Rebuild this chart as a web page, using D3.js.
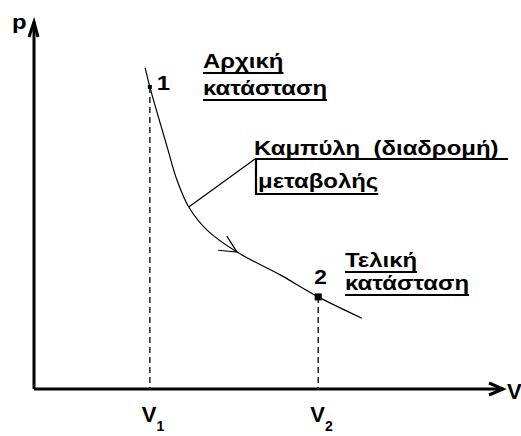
<!DOCTYPE html>
<html>
<head>
<meta charset="utf-8">
<script src="https://cdn.jsdelivr.net/npm/d3@7"></script>
<style>
  html, body { margin: 0; padding: 0; background: #ffffff; }
  svg { display: block; }
  text { font-family: "Liberation Sans", Arial, sans-serif; font-weight: bold; fill: #000; }
</style>
</head>
<body>
<script>
// p–V diagram of a change of state from state 1 to state 2

// path of the change (volume, pressure)
const curveV = [2.37, 2.47, 2.84, 3.05, 3.30, 3.69, 4.33, 5.25, 6.06, 6.99];
const curveP = [8.75, 8.23, 6.59, 5.69, 4.96, 4.33, 3.73, 3.11, 2.51, 1.93];

// initial and final states
const stateNames = ["1", "2"];
const stateV = [2.47, 6.06];
const stateP = [8.23, 2.51];

// position of the direction arrow on the curve (volume)
const arrowV = 4.33;
// point of the curve the caption leader starts from (volume)
const leaderV = 3.30;

// captions
const initialLabel = ["Αρχική", "κατάσταση"];
const finalLabel = ["Τελική", "κατάσταση"];
const pathLabel = ["Καμπύλη  (διαδρομή)", "μεταβολής"];
const axisLabelX = "V";
const axisLabelY = "p";

const W = 521, H = 436;
const SX = 1.14; // horizontal stretch of the bold lettering
const svg = d3.select("body").append("svg").attr("width", W).attr("height", H);

const x = d3.scaleLinear().domain([0, 10]).range([34, 503]);
const y = d3.scaleLinear().domain([0, 10]).range([389, 22]);

// bold, slightly widened text; returns its drawn width
function label(px, py, str, size) {
  const t = svg.append("text")
    .attr("transform", `translate(${px},${py}) scale(${SX},1)`)
    .attr("font-size", size).style("white-space", "pre").text(str);
  return t.node().getComputedTextLength() * SX;
}
function underline(x1, x2, py) {
  svg.append("line").attr("x1", x1).attr("x2", x2).attr("y1", py).attr("y2", py)
    .attr("stroke", "#000").attr("stroke-width", 2.2);
}

// axes
const axisG = svg.append("g").attr("stroke", "#000").attr("stroke-width", 3).attr("fill", "none");
axisG.append("line").attr("x1", x(0)).attr("y1", y(0)).attr("x2", x(10)).attr("y2", y(0));
axisG.append("line").attr("x1", x(0)).attr("y1", y(0)).attr("x2", x(0)).attr("y2", y(10));
axisG.append("path").attr("stroke-linejoin", "miter")
  .attr("d", `M${x(10) - 14},${y(0) - 6}L${x(10)},${y(0)}L${x(10) - 14},${y(0) + 6}`);
axisG.append("path").attr("stroke-linejoin", "miter")
  .attr("d", `M${x(0) - 5},${y(10) + 15}L${x(0)},${y(10)}L${x(0) + 4},${y(10) + 15}`);

label(12, 29, axisLabelY, 21);
svg.append("text").attr("x", 507).attr("y", 399).attr("font-size", 22).attr("font-weight", "normal").text(axisLabelX);

// dashed drops from the states to the V axis
svg.append("g").selectAll("line").data(stateV).join("line")
  .attr("x1", d => x(d)).attr("x2", d => x(d))
  .attr("y1", (d, i) => y(stateP[i])).attr("y2", y(0))
  .attr("stroke", "#222").attr("stroke-width", 1.5).attr("stroke-dasharray", "6,4");

// V1, V2 labels
const vLab = svg.append("g").selectAll("text").data(stateV).join("text")
  .attr("x", d => x(d) - 8).attr("y", 422).attr("font-size", 22).attr("font-weight", "normal");
vLab.append("tspan").text(axisLabelX);
vLab.append("tspan").attr("dy", 9).attr("font-size", 14).text((d, i) => stateNames[i]);

// the path of the change
const pts = curveV.map((v, i) => [v, curveP[i]]);
const line = d3.line().x(d => x(d[0])).y(d => y(d[1])).curve(d3.curveCatmullRom.alpha(0.5));
svg.append("path").datum(pts).attr("d", line)
  .attr("fill", "none").attr("stroke", "#000").attr("stroke-width", 1.2);

// direction arrow on the curve
const ai = curveV.indexOf(arrowV);
const ang = Math.atan2(y(curveP[ai + 1]) - y(curveP[ai - 1]), x(curveV[ai + 1]) - x(curveV[ai - 1]));
const ax = x(curveV[ai]), ay = y(curveP[ai]);
const barb = 19, spread = 0.45;
svg.append("path")
  .attr("d", `M${ax - barb * Math.cos(ang - spread)},${ay - barb * Math.sin(ang - spread)}L${ax},${ay}L${ax - barb * Math.cos(ang + spread)},${ay - barb * Math.sin(ang + spread)}`)
  .attr("fill", "none").attr("stroke", "#000").attr("stroke-width", 1.2);

// state markers and numbers
const sizes = [4, 7];
svg.append("g").selectAll("rect").data(stateV).join("rect")
  .attr("x", (d, i) => x(d) - sizes[i] / 2).attr("y", (d, i) => y(stateP[i]) - sizes[i] / 2)
  .attr("width", (d, i) => sizes[i]).attr("height", (d, i) => sizes[i]).attr("fill", "#000");
label(x(stateV[0]) + 7, y(stateP[0]) + 3, stateNames[0], 21);
label(x(stateV[1]) - 4, y(stateP[1]) - 13, stateNames[1], 20);

// underlined captions
function caption(lines, x0, y0, dy) {
  lines.forEach((s, i) => {
    const w = label(x0, y0 + i * dy, s, 21);
    underline(x0, x0 + w, y0 + i * dy + 5);
  });
}
caption(initialLabel, 203, 68, 27);
caption(finalLabel, 345, 267, 23);

// caption of the curve with its leader
const li = curveV.indexOf(leaderV);
const lx = 255, ly = 159;
svg.append("line").attr("x1", x(curveV[li])).attr("y1", y(curveP[li])).attr("x2", lx).attr("y2", ly)
  .attr("stroke", "#000").attr("stroke-width", 1.2);
underline(lx, 508, ly);
svg.append("line").attr("x1", lx + 1).attr("x2", lx + 1).attr("y1", ly).attr("y2", 195)
  .attr("stroke", "#000").attr("stroke-width", 2.2);
label(lx - 1, 155, pathLabel[0], 21);
const w2 = label(lx + 3, 188, pathLabel[1], 21);
underline(lx + 1, lx + 3 + w2, 194);
</script>
</body>
</html>
